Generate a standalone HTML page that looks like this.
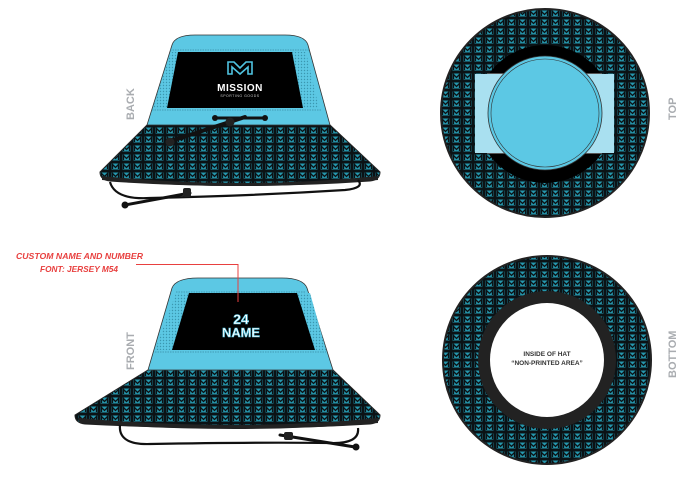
<!DOCTYPE html>
<html><head><meta charset="utf-8"><style>
html,body{margin:0;padding:0;background:#fff;width:700px;height:493px;overflow:hidden}
svg{display:block}
</style></head><body>
<svg width="700" height="493" viewBox="0 0 700 493" xmlns="http://www.w3.org/2000/svg">
<defs>
<pattern id="m" x="0" y="0" width="11" height="9" patternUnits="userSpaceOnUse">
<rect width="11" height="9" fill="#0b1215"/>
<rect x="1.5" y="1.5" width="8" height="6" fill="#2597ad"/>
<path d="M2.5 7V2.5L5.5 5.5L8.5 2.5V7" stroke="#0b1215" stroke-width="1.3" fill="none"/>
</pattern>
<pattern id="dots" width="3" height="3" patternUnits="userSpaceOnUse">
<rect width="3" height="3" fill="#5cc8e4"/><circle cx="1.5" cy="1.5" r="0.7" fill="#3a97b0"/>
</pattern>
</defs>

<!-- BACK HAT -->
<path d="M100 172 L147 125 L330 125 L380 172 Q380 180 370 181 Q240 190 110 181 Q100 180 100 172Z" fill="url(#m)" stroke="#222" stroke-width="1"/>
<path d="M102 176 Q240 190 378 176 L378 180 Q240 192 102 180Z" fill="#222"/>
<path d="M147 125 L172 45 Q175 35 195 35 L285 35 Q305 35 308 45 L330 125Z" fill="#5cc8e4" stroke="#333" stroke-width="0.8"/>
<path d="M171 52 L306 52 L319 108 L153 108Z" fill="url(#dots)"/>
<path d="M178 52 L292 52 L303 108 L167 108Z" fill="#000"/>
<line x1="170" y1="50" x2="309" y2="50" stroke="#3a8da6" stroke-width="0.8" stroke-dasharray="1.5 1"/>
<line x1="152" y1="110" x2="322" y2="110" stroke="#3a8da6" stroke-width="0.8" stroke-dasharray="1.5 1"/>
<path d="M228 62 h6 l6 6 l6 -6 h6 v12 h-4 v-7 l-8 7 l-8 -7 v7 h-4z" fill="none" stroke="#4fc3e0" stroke-width="1.6"/>
<text x="240" y="91" font-family="Liberation Sans, sans-serif" font-weight="bold" font-size="10" fill="#fff" text-anchor="middle" letter-spacing="0.5">MISSION</text>
<text x="240" y="97" font-family="Liberation Sans, sans-serif" font-size="3.5" fill="#ccc" text-anchor="middle" letter-spacing="0.5">SPORTING GOODS</text>
<path d="M168 142 L245 117" stroke="#111" stroke-width="4" stroke-linecap="round"/>
<path d="M215 118 L265 118" stroke="#111" stroke-width="3" stroke-linecap="round"/>
<circle cx="215" cy="118" r="3" fill="#111"/><circle cx="265" cy="118" r="3" fill="#111"/>
<circle cx="230" cy="122" r="4.5" fill="#222"/><circle cx="170" cy="142" r="4.5" fill="#222"/>
<path d="M110 182 Q115 200 150 198 Q250 196 345 190 Q365 188 358 180" stroke="#111" stroke-width="2.2" fill="none"/>
<path d="M125 205 L190 193" stroke="#111" stroke-width="3" stroke-linecap="round"/>
<circle cx="125" cy="205" r="3.5" fill="#111"/><rect x="183" y="188" width="8" height="9" rx="2" fill="#222"/>
<text transform="translate(134,120) rotate(-90)" font-family="Liberation Sans, sans-serif" font-weight="bold" font-size="11" fill="#a9acb0">BACK</text>

<!-- FRONT HAT -->
<path d="M75 415 L148 370 L333 370 L380 415 Q380 423 370 424 Q240 432 85 424 Q75 423 75 415Z" fill="url(#m)" stroke="#222" stroke-width="1"/>
<path d="M78 418 Q240 432 378 418 L378 423 Q240 435 80 423Z" fill="#222"/>
<path d="M148 370 L172 288 Q176 278 198 278 L282 278 Q303 278 307 288 L333 370Z" fill="#5cc8e4" stroke="#333" stroke-width="0.8"/>
<path d="M176 293 L310 293 L326 350 L155 350Z" fill="url(#dots)"/>
<path d="M189 293 L297 293 L315 350 L172 350Z" fill="#000"/>
<line x1="176" y1="292" x2="306" y2="292" stroke="#3a8da6" stroke-width="0.8" stroke-dasharray="1.5 1"/>
<line x1="155" y1="352" x2="326" y2="352" stroke="#3a8da6" stroke-width="0.8" stroke-dasharray="1.5 1"/>
<text x="241" y="324" font-family="Liberation Sans, sans-serif" font-weight="bold" font-size="14" fill="#fff" stroke="#4fc3e0" stroke-width="0.6" text-anchor="middle">24</text>
<text x="241" y="337" font-family="Liberation Sans, sans-serif" font-weight="bold" font-size="13" fill="#fff" stroke="#4fc3e0" stroke-width="0.6" text-anchor="middle" textLength="38" lengthAdjust="spacingAndGlyphs">NAME</text>
<path d="M120 425 Q118 445 150 444 Q260 442 330 443 Q360 444 358 428" stroke="#111" stroke-width="2.2" fill="none"/>
<path d="M280 435 L355 447" stroke="#111" stroke-width="3" stroke-linecap="round"/>
<rect x="284" y="432" width="9" height="8" rx="2" fill="#222"/><circle cx="356" cy="447" r="3.5" fill="#111"/>
<text transform="translate(134,370) rotate(-90)" font-family="Liberation Sans, sans-serif" font-weight="bold" font-size="11" fill="#a9acb0">FRONT</text>

<!-- red callout -->
<text x="16" y="259" font-family="Liberation Sans, sans-serif" font-weight="bold" font-style="italic" font-size="8.5" fill="#e8403f" textLength="127" lengthAdjust="spacingAndGlyphs">CUSTOM NAME AND NUMBER</text>
<text x="40" y="272" font-family="Liberation Sans, sans-serif" font-weight="bold" font-style="italic" font-size="8.5" fill="#e8403f" textLength="78" lengthAdjust="spacingAndGlyphs">FONT: JERSEY M54</text>
<polyline points="136,264.5 238,264.5 238,302" stroke="#e8403f" stroke-width="1" fill="none"/>

<!-- TOP -->
<circle cx="545" cy="113" r="104" fill="url(#m)" stroke="#222" stroke-width="2"/>
<circle cx="545" cy="114" r="69" fill="#000"/>
<rect x="475" y="74" width="139" height="79" fill="#a9e0f0"/>
<line x1="487" y1="73.5" x2="602" y2="73.5" stroke="#555" stroke-width="1"/>
<line x1="487" y1="153.5" x2="602" y2="153.5" stroke="#555" stroke-width="1"/>
<circle cx="545" cy="113" r="57" fill="#5cc8e4" stroke="#333" stroke-width="0.8"/>
<circle cx="545" cy="113" r="54" fill="none" stroke="#333" stroke-width="0.6"/>
<text transform="translate(676,120) rotate(-90)" font-family="Liberation Sans, sans-serif" font-weight="bold" font-size="11" fill="#a9acb0">TOP</text>

<!-- BOTTOM -->
<circle cx="547" cy="360" r="104" fill="url(#m)" stroke="#222" stroke-width="2"/>
<circle cx="547" cy="360" r="69" fill="#222"/>
<circle cx="547" cy="360" r="57" fill="#fff"/>
<text x="547" y="356" font-family="Liberation Sans, sans-serif" font-weight="bold" font-size="6.5" fill="#333" text-anchor="middle">INSIDE OF HAT</text>
<text x="547" y="365" font-family="Liberation Sans, sans-serif" font-weight="bold" font-size="6.5" fill="#333" text-anchor="middle">“NON-PRINTED AREA”</text>
<text transform="translate(676,378) rotate(-90)" font-family="Liberation Sans, sans-serif" font-weight="bold" font-size="11" fill="#a9acb0">BOTTOM</text>
</svg>
</body></html>
